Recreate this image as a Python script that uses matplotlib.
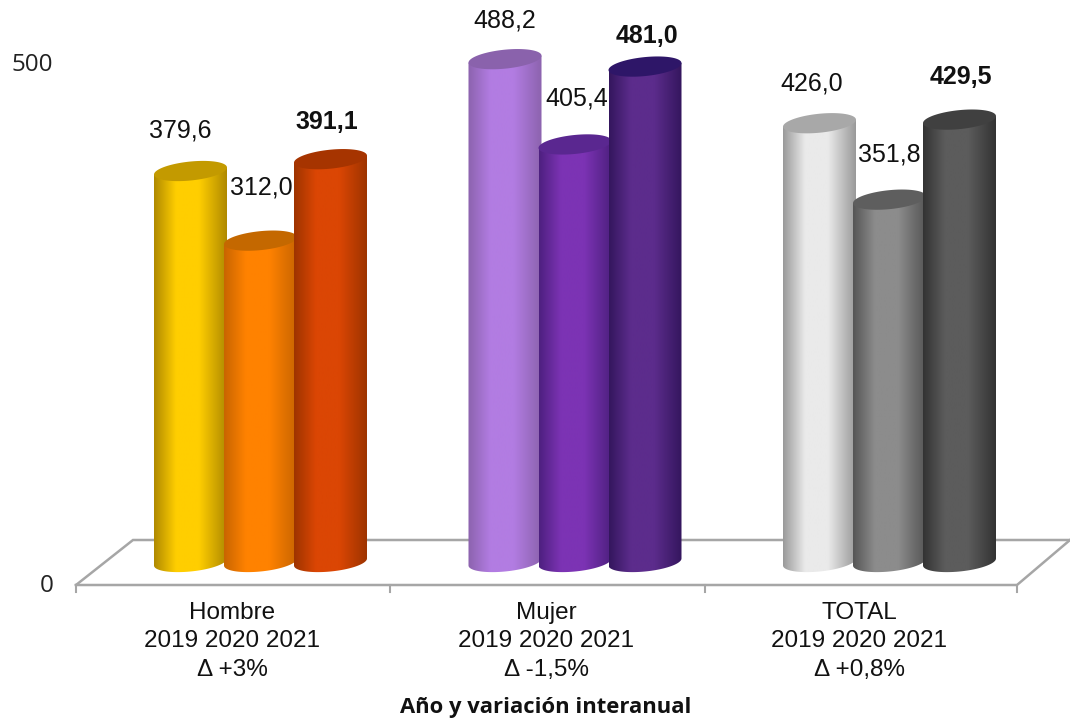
import numpy as np
import matplotlib
matplotlib.use('Agg')
import matplotlib.pyplot as plt
from matplotlib.colors import LinearSegmentedColormap
from matplotlib.patches import PathPatch
from matplotlib.path import Path
from matplotlib.transforms import Affine2D

plt.rcParams['font.family'] = ['Liberation Sans', 'DejaVu Sans']

# datos
categories = ['Hombre', 'Mujer', 'TOTAL']
years = ['2019', '2020', '2021']
variation = ['\u0394 +3%', '\u0394 -1,5%', '\u0394 +0,8%']
values_2019 = [379.6, 488.2, 426.0]
values_2020 = [312.0, 405.4, 351.8]
values_2021 = [391.1, 481.0, 429.5]
y_ticks = [0, 500]

# colores (borde, centro, tapa)
colors_2019 = [('#B08A00', '#FFCE00', '#C39A00'), ('#8C63AE', '#B27CE2', '#8A62AC'), ('#9A9A9A', '#EAEAEA', '#A8A8A8')]
colors_2020 = [('#C96500', '#FF8200', '#C46800'), ('#4E2080', '#7C33B4', '#5A2790'), ('#565656', '#8C8C8C', '#5E5E5E')]
colors_2021 = [('#9E3400', '#DB4604', '#A63400'), ('#34165E', '#5C2C8C', '#2E1668'), ('#333333', '#5C5C5C', '#404040')]

# desplazamiento de las etiquetas respecto a la tapa (pixeles)
label_off = [[(-10, 41), (1, 53), (-4, 37)],
             [(0, 39), (2, 46), (2, 31)],
             [(-8, 40), (0, 45), (1, 43)]]

W, H = 1070, 720
PX_Y = 1.03      # pixeles por unidad
PX_X = 314.5     # pixeles por grupo
Y0 = 562
X0 = 260.5

fig = plt.figure(figsize=(W / 100, H / 100), dpi=100, facecolor='white')
ax = fig.add_axes([0, 0, 1, 1])
ax.axis('off')

# transformacion en pixeles para el suelo y los textos
px = Affine2D().scale(1 / W, -1 / H).translate(0, 1) + fig.transFigure


def cylinder(x, val, cols, z):
    a = 36.5 / PX_X
    b = 9.5 / PX_Y
    tilt = 3.5 / PX_Y
    t = np.linspace(np.pi, 2 * np.pi, 60)
    xs = x + a * np.cos(t)
    low = b * np.sin(t) + tilt * np.cos(t)
    # cuerpo
    verts = list(zip(xs, low))
    verts += [(x + a, val + tilt), (x - a, val - tilt), (x - a, -tilt)]
    path = Path(verts + [verts[0]], closed=True)
    edge, mid, top = cols
    cmap = LinearSegmentedColormap.from_list(
        'c', [(0, edge), (0.3, mid), (0.62, mid), (1, edge)])
    grad = np.linspace(0, 1, 128).reshape(1, -1)
    im = ax.imshow(grad, cmap=cmap, extent=(x - a, x + a, -b - tilt, val + tilt),
                   aspect='auto', zorder=z, interpolation='bilinear')
    patch = PathPatch(path, transform=ax.transData, facecolor='none', edgecolor='none')
    ax.add_patch(patch)
    im.set_clip_path(patch)
    # tapa
    t2 = np.linspace(0, 2 * np.pi, 90)
    tx = x + a * np.cos(t2)
    ty = val + b * np.sin(t2) + tilt * np.cos(t2)
    ax.fill(tx, ty, color=top, lw=0, zorder=z + 0.1)


# suelo
floor = '#A6A6A6'
ax.plot([76, 133, 1070], [585, 540, 540], color=floor, lw=1.8, transform=px, zorder=1, solid_joinstyle='miter')
ax.plot([76, 1017, 1070], [585, 585, 540], color=floor, lw=1.8, transform=px, zorder=1, solid_joinstyle='miter')
for tx in [76, 390, 705, 1017]:
    ax.plot([tx, tx], [585, 592], color=floor, lw=1.5, transform=px, zorder=1)

offsets = [-70 / PX_X, 0, 70 / PX_X]
series = [values_2019, values_2020, values_2021]
palette = [colors_2019, colors_2020, colors_2021]
for i in range(len(categories)):
    for j in range(3):
        x = i + offsets[j]
        cylinder(x, series[j][i], palette[j][i], 3 + i * 3 + j)
        dx, dy = label_off[i][j]
        ax.annotate(f'{series[j][i]:.1f}'.replace('.', ','), (x, series[j][i]),
                    xytext=(dx * 0.72, dy * 0.72), textcoords='offset points',
                    ha='center', va='center', fontsize=18,
                    fontweight='bold' if j == 2 else 'normal',
                    color='#111111', zorder=20)

ax.set_xlim(-X0 / PX_X, (W - X0) / PX_X)
ax.set_ylim((Y0 - H) / PX_Y, Y0 / PX_Y)

# ejes
for v in y_ticks:
    ypx = 586 if v == 0 else 65
    xpx = 47 if v == 0 else 32
    ax.text(xpx, ypx, str(v), transform=px, ha='center', va='center', fontsize=17.5,
            family=['Open Sans', 'DejaVu Sans'], color='#222222')

for cx, name, var in zip([232, 546, 859], categories, variation):
    ax.text(cx, 613, name, transform=px, ha='center', va='center', fontsize=17.5, color='#111111')
    ax.text(cx, 641, ' '.join(years), transform=px, ha='center', va='center', fontsize=17.5, color='#111111')
    ax.text(cx, 670, var, transform=px, ha='center', va='center', fontsize=17.5, color='#111111')

ax.text(546, 707, 'A\u00f1o y variaci\u00f3n interanual', transform=px, ha='center', va='center',
        fontsize=15.8, fontweight='bold', family=['Open Sans', 'DejaVu Sans'], color='#111111')

plt.savefig('out.png', dpi=100)
